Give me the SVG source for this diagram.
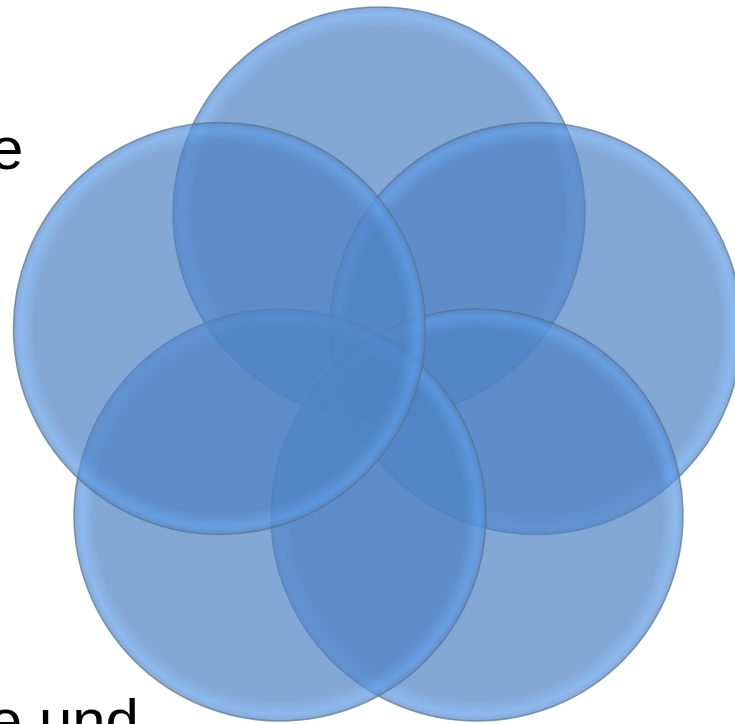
<svg xmlns="http://www.w3.org/2000/svg" width="735" height="724" viewBox="0 0 735 724">
  <style>
    .txt { font-family: "Liberation Sans", Arial, sans-serif; font-size: 60px; fill: #000000; }
    .c { fill: url(#rg); fill-opacity: 0.7; stroke: #54738F; stroke-opacity: 0.7; stroke-width: 1.5; }
  </style>
  <defs>
    <radialGradient id="rg" cx="0.5" cy="0.5" r="0.5">
      <stop offset="0" stop-color="#4E82C4"/>
      <stop offset="0.9" stop-color="#4E82C4"/>
      <stop offset="0.965" stop-color="#5E9CE6"/>
      <stop offset="1" stop-color="#5585C4"/>
    </radialGradient>
  </defs>
  <rect width="735" height="724" fill="#FFFFFF"/>
  <text class="txt" x="-10" y="169">e</text>
  <text class="txt" x="139" y="741" text-anchor="end">e und</text>
  <g id="circle-top"><circle class="c" cx="379" cy="213" r="206"/></g>
  <g id="circle-right"><circle class="c" cx="536" cy="328.5" r="206"/></g>
  <g id="circle-bottom-right"><circle class="c" cx="477" cy="515" r="206"/></g>
  <g id="circle-bottom-left"><circle class="c" cx="280" cy="515" r="206"/></g>
  <g id="circle-left"><circle class="c" cx="219.5" cy="328.5" r="206"/></g>
  <g id="connectors"></g>
</svg>
